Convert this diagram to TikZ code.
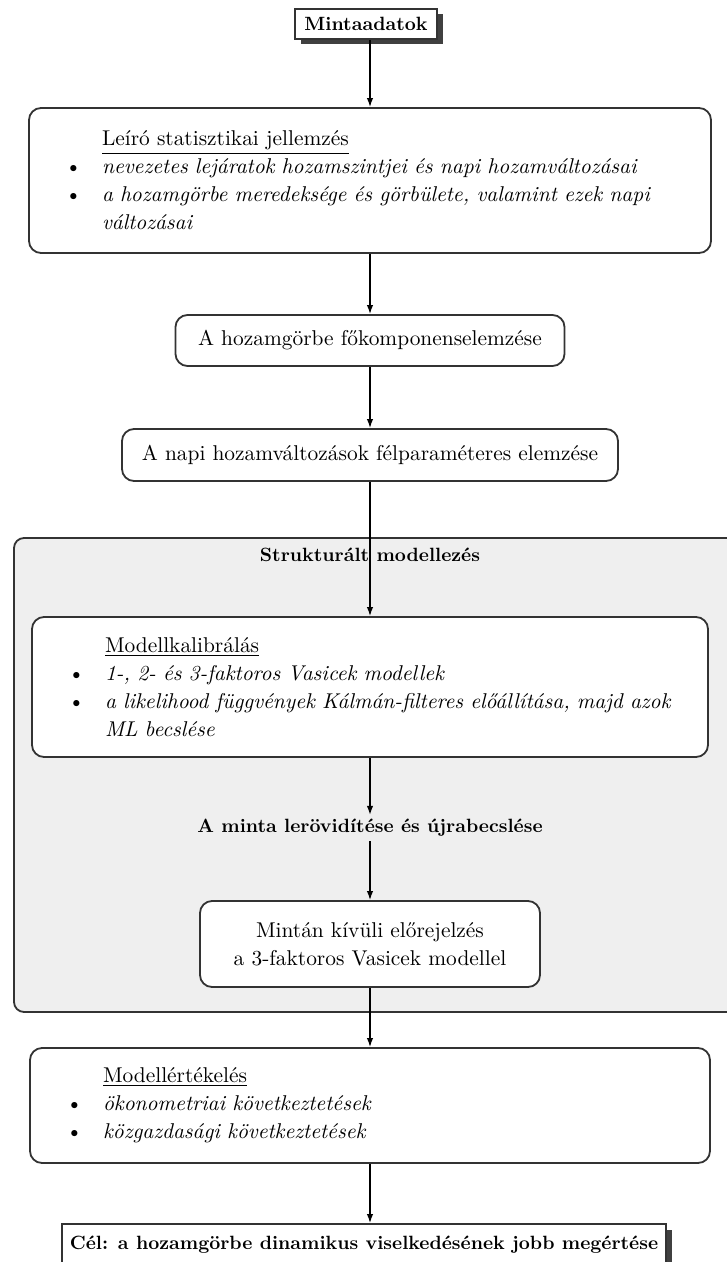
\documentclass[tikz,border=0pt]{standalone}
\usepackage{tikz}
\usetikzlibrary{arrows.meta,shadows}
\definecolor{panelgray}{HTML}{EFEFEF}
\newcommand{\itm}[1]{\mbox{\makebox[18.5pt][l]{\textbullet}\textit{#1}}}
\newcommand{\ind}{\hspace*{18.5pt}}

\begin{document}
\begin{tikzpicture}[x=0.5pt, y=-0.5pt, >={Latex[length=4.5pt,width=3.2pt]},
	every node/.style={font=\fontsize{10.7}{14}\selectfont},
	stepbox/.style={draw=black!80, line width=0.9pt, fill=white, rounded corners=6pt, inner sep=2pt},
	listbox/.style={stepbox, inner xsep=18pt, align=left},
	keybox/.style={draw=black!80, line width=0.9pt, fill=white, inner sep=2pt,
		font=\fontsize{9.6}{12}\selectfont\bfseries,
		drop shadow={shadow xshift=2.75pt, shadow yshift=-2.75pt, fill=black!75, opacity=1}},
	boldlbl/.style={font=\fontsize{9.6}{12}\selectfont\bfseries, inner sep=2pt}]
	\useasboundingbox (0,0) rectangle (727,1262);
	% panel of the structured modelling part
	\draw[draw=black!80, line width=0.9pt, fill=panelgray, rounded corners=5pt] (14,538) rectangle (790,1012);
	\node[keybox, minimum width=71pt, minimum height=15pt] (m0) at (366,24) {Mintaadatok};
	\node[listbox, text width=305pt, minimum height=72.5pt] (b1) at (370,180.5) {%
		\ind\underline{Leíró statisztikai jellemzés}\\
		\itm{nevezetes lejáratok hozamszintjei és napi hozamváltozásai}\\
		\itm{a hozamgörbe meredeksége és görbülete, valamint ezek napi}\\
		\ind\textit{változásai}};
	\node[stepbox, minimum width=194.5pt, minimum height=25.5pt] (b2) at (370,340.5) {A hozamgörbe főkomponenselemzése};
	\node[stepbox, minimum width=248pt, minimum height=26pt] (b3) at (370,455) {A napi hozamváltozások félparaméteres elemzése};
	\node[boldlbl] (t1) at (370,555) {Strukturált modellezés};
	\node[listbox, text width=302pt, minimum height=70pt] (b4) at (370,687) {%
		\ind\underline{Modellkalibrálás}\\
		\itm{1-, 2- és 3-faktoros Vasicek modellek}\\
		\itm{a likelihood függvények Kálmán-filteres előállítása, majd azok}\\
		\ind\textit{ML becslése}};
	\node[boldlbl] (t2) at (370,828) {A minta lerövidítése és újrabecslése};
	\node[stepbox, align=center, minimum width=170pt, minimum height=43pt] (b5) at (370,944) {Mintán kívüli előrejelzés\\a 3-faktoros Vasicek modellel};
	\node[listbox, text width=304pt, minimum height=57.5pt] (b6) at (370,1105.5) {%
		\ind\underline{Modellértékelés}\\
		\itm{ökonometriai következtetések}\\
		\itm{közgazdasági következtetések}};
	\node[keybox, minimum width=302pt, minimum height=21pt] (goal) at (364,1245) {Cél: a hozamgörbe dinamikus viselkedésének jobb megértése};
	% connectors
	\draw[->, line width=0.7pt] (m0.south -| b1.north) -- (b1.north);
	\foreach \a/\b in {b1/b2, b2/b3, b3/b4, b4/t2, t2/b5, b5/b6}
		\draw[->, line width=0.7pt] (\a) -- (\b);
	\draw[->, line width=0.7pt] (b6.south) -- (b6.south |- goal.north);
\end{tikzpicture}
\end{document}
